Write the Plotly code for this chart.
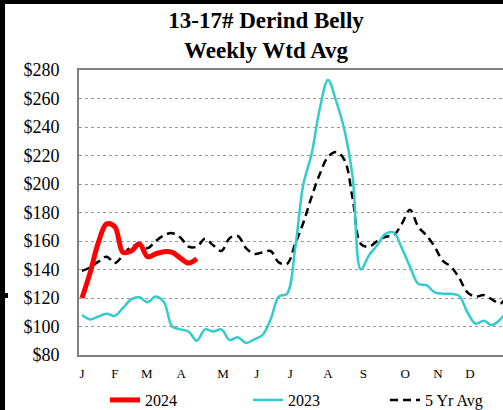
import plotly.graph_objects as go

# ---- data ----
weeks = list(range(1, 54))
red_2024 = [120, 138, 159, 172, 170, 152, 153, 158, 149, 151, 152.5, 152, 148, 144.5, 147.5]
cyan_2023 = [108, 105, 107, 109, 107.5, 113, 119, 120.5, 117, 121, 117, 100, 98, 96.5, 90,
             98, 96.5, 98, 90.5, 92.5, 88.5, 91, 94, 105, 121, 123, 155, 200, 221, 253,
             273, 258, 238, 205, 140, 150, 157, 165, 166, 155, 142, 130, 129, 124, 123,
             123, 121.5, 110, 102, 104, 101, 105, 112]
avg_5yr = [139, 141.5, 145.5, 149, 144.5, 150, 156, 157, 155, 160, 164, 165.5, 162.5, 156, 156,
           161.5, 157, 153, 162, 163.5, 155, 151, 152, 153, 145, 144, 158, 173, 191, 207,
           219, 222.5, 217, 190, 158, 156, 160, 163, 164, 172, 182, 170, 164, 156, 146,
           142, 134, 124, 121, 122, 119, 116, 124]
month_labels = ["J", "F", "M", "A", "M", "J", "J", "A", "S", "O", "N", "D"]
month_weeks = [1.0, 5.0, 8.9, 13.1, 18.2, 22.3, 26.4, 31.0, 35.3, 40.4, 44.4, 48.3]
y_ticks = list(range(80, 281, 20))
y_labels = ["$" + str(v) for v in y_ticks]

FONT = "Liberation Serif"

fig = go.Figure()
fig.add_trace(go.Scatter(x=weeks[:len(avg_5yr)], y=avg_5yr, mode="lines", name="5 Yr Avg",
                         line=dict(color="black", width=2.5, dash="8px,5px", shape="spline"),
                         legend="legend3"))
fig.add_trace(go.Scatter(x=weeks[:len(cyan_2023)], y=cyan_2023, mode="lines", name="2023",
                         line=dict(color="#33CCCC", width=2.5, shape="spline"),
                         legend="legend2"))
fig.add_trace(go.Scatter(x=weeks[:len(red_2024)], y=red_2024, mode="lines", name="2024",
                         line=dict(color="#FF0000", width=5, shape="spline"),
                         legend="legend"))

# frame bits at the left/top of the picture
shapes = [
    dict(type="rect", xref="paper", yref="paper", x0=-0.1863, x1=-0.1745, y0=-0.2, y1=1.25,
         fillcolor="black", line_width=0, layer="above"),
    dict(type="rect", xref="paper", yref="paper", x0=-0.1863, x1=1.0, y0=1.2316, y1=1.25,
         fillcolor="black", line_width=0, layer="above"),
    dict(type="rect", xref="paper", yref="paper", x0=-0.1863, x1=-0.1675, y0=0.2, y1=0.2175,
         fillcolor="black", line_width=0, layer="above"),
]

leg_common = dict(orientation="h", xanchor="left", y=-0.158, yanchor="middle",
                  font=dict(family=FONT, size=16, color="black"),
                  bgcolor="rgba(0,0,0,0)")

fig.update_layout(
    width=503, height=410,
    margin=dict(l=79, r=0, t=70, b=55, autoexpand=False),
    paper_bgcolor="white", plot_bgcolor="white",
    font=dict(family=FONT, color="black"),
    title=dict(text="<b>13-17# Derind Belly<br>Weekly Wtd Avg</b>",
               x=0.529, xanchor="center", xref="container",
               y=0.931, yanchor="middle", yref="container",
               font=dict(family=FONT, size=23, color="black")),
    showlegend=True,
    legend=dict(x=0.0613, **leg_common),
    legend2=dict(x=0.3986, **leg_common),
    legend3=dict(x=0.7217, **leg_common),
    shapes=shapes,
)
fig.update_xaxes(range=[0.634, 52.34], tickvals=month_weeks, ticktext=month_labels,
                 showgrid=False, zeroline=False, showline=True, linecolor="#808080",
                 linewidth=2, mirror=True, ticks="", ticklabelstandoff=5, automargin=False,
                 tickfont=dict(family=FONT, size=13, color="black"))
fig.update_yaxes(range=[80, 280], tickvals=y_ticks, ticktext=y_labels,
                 showgrid=True, gridcolor="#999999", griddash="dot", gridwidth=1,
                 zeroline=False, showline=True, linecolor="#808080", linewidth=2,
                 ticks="", ticklabelstandoff=14, automargin=False,
                 tickfont=dict(family=FONT, size=18, color="black"))

fig.write_html("out.html", config={"displayModeBar": False},
               post_script="document.body.style.margin='0px';document.body.style.overflow='hidden';")
